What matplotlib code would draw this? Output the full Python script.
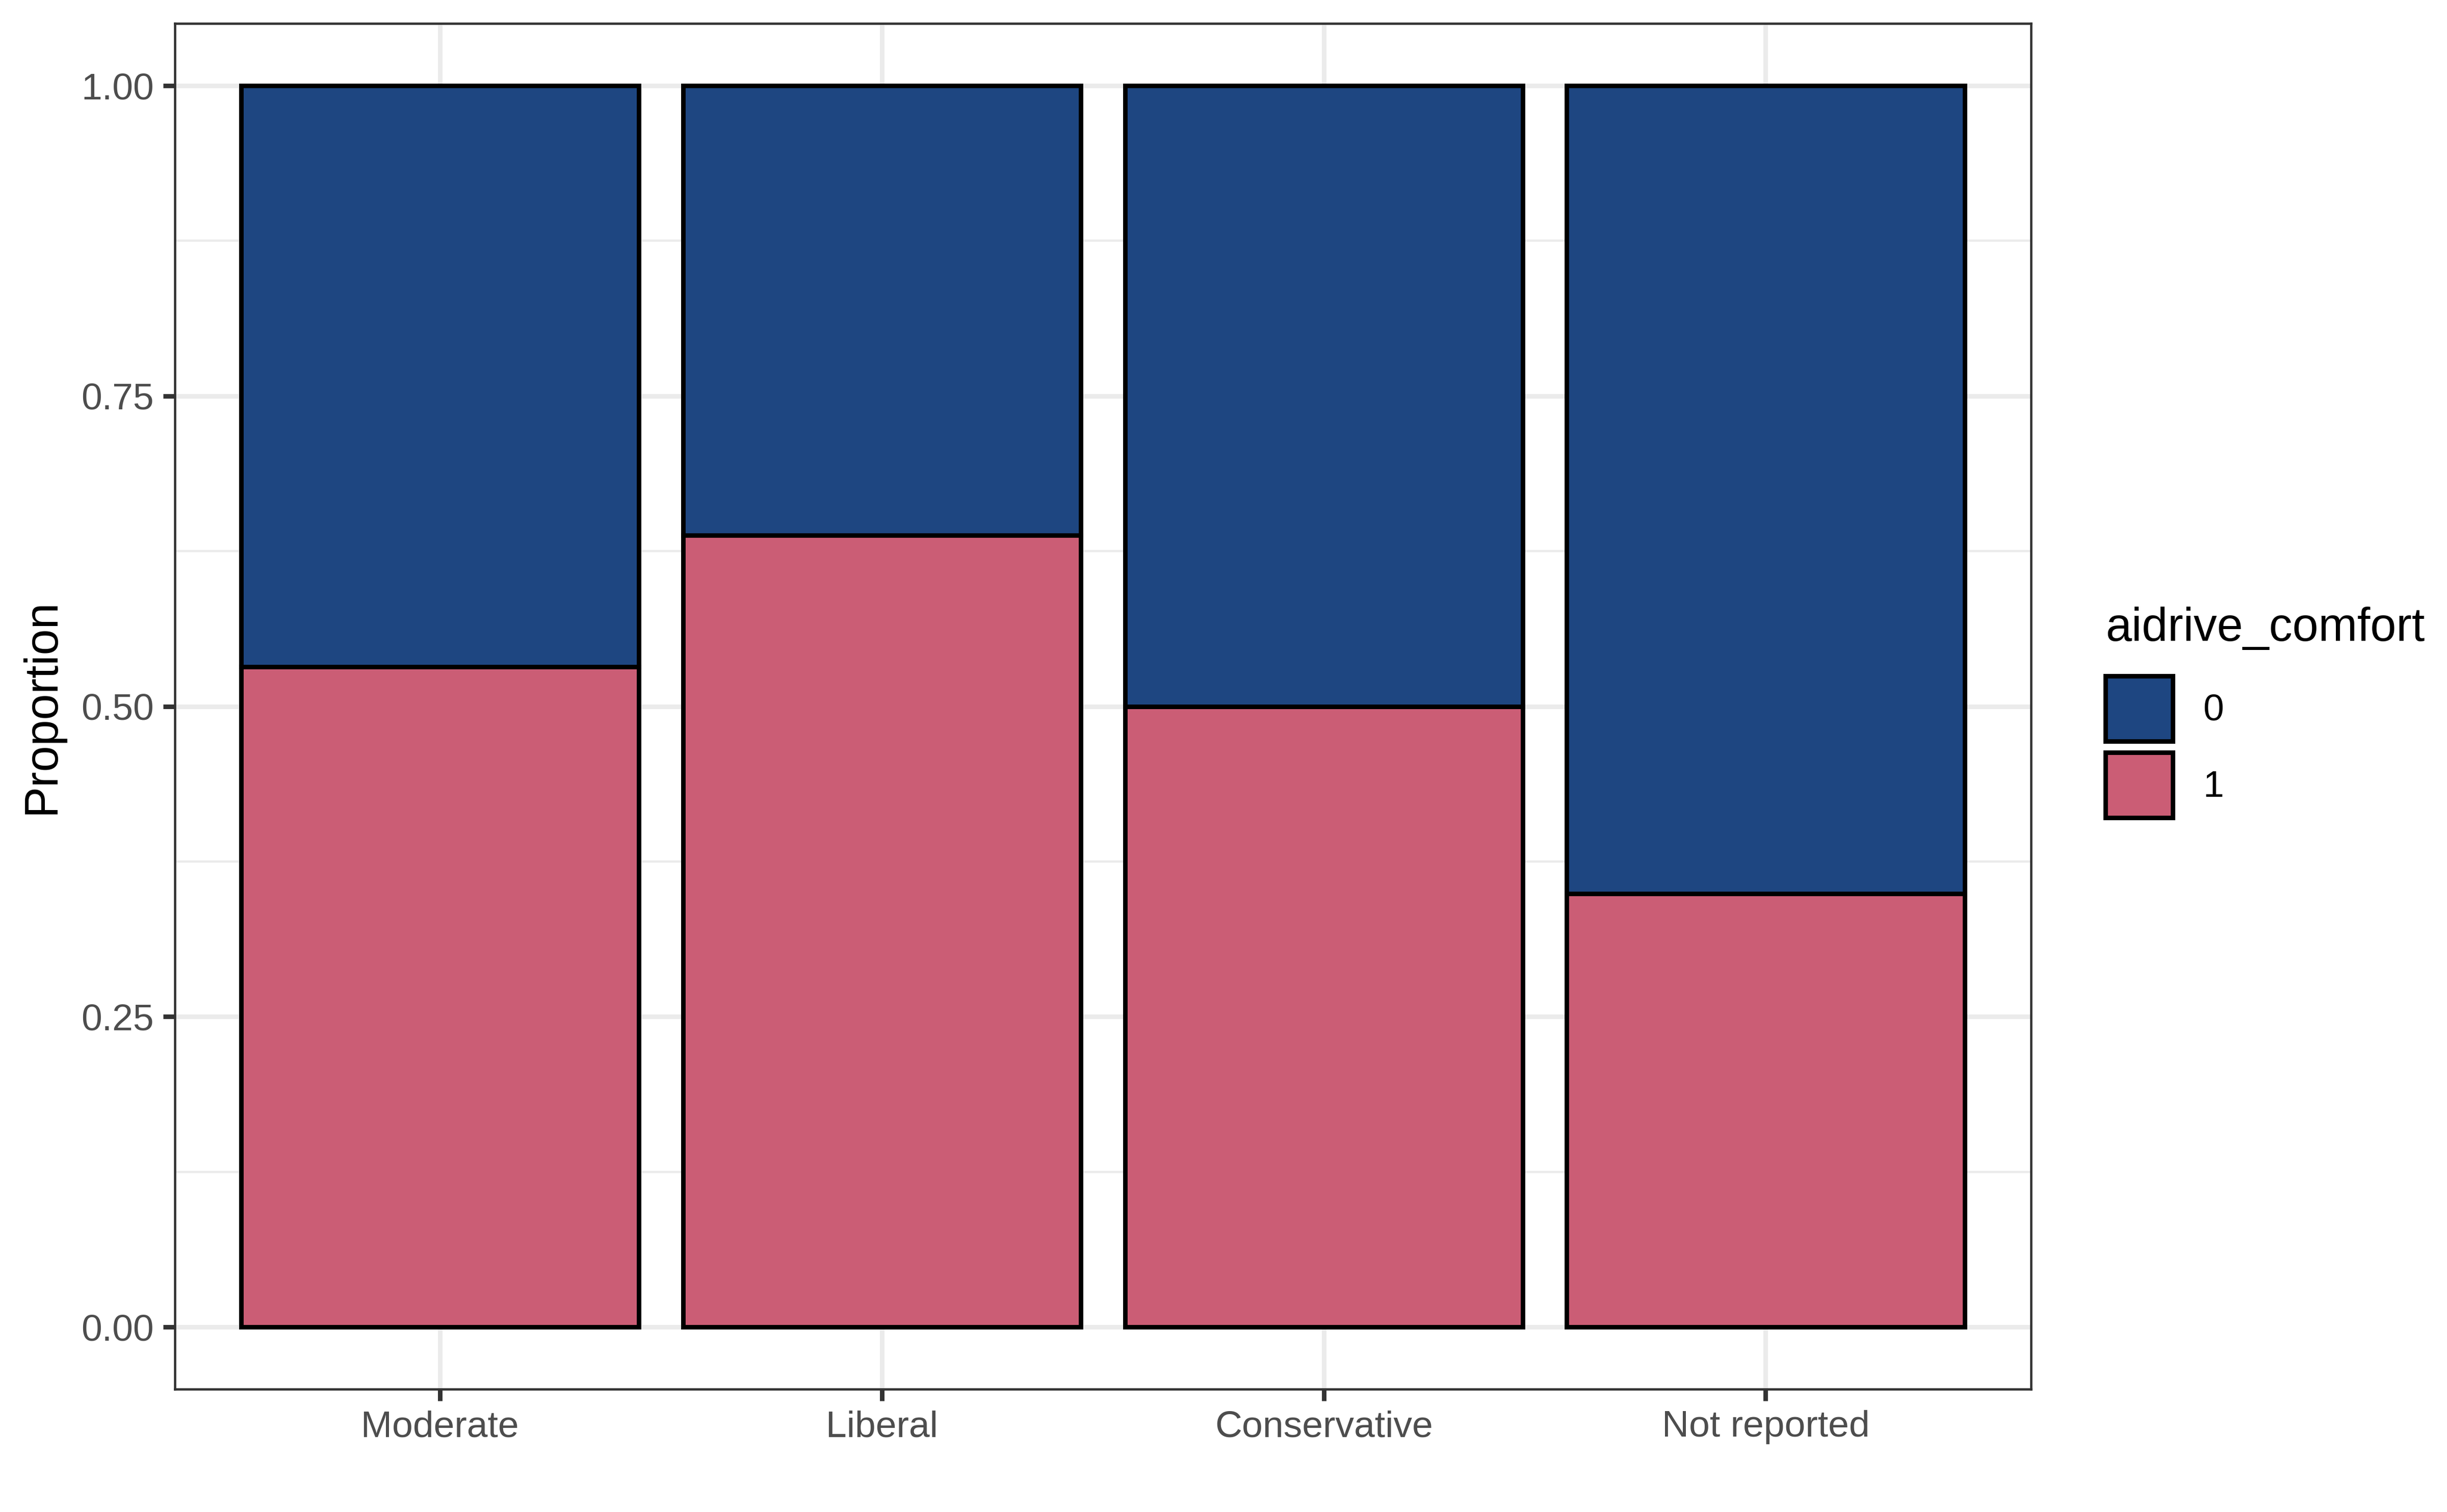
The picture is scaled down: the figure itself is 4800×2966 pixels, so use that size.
import matplotlib
matplotlib.use("Agg")
import matplotlib.pyplot as plt
from matplotlib.patches import Patch
import numpy as np

# proportions
categories = ["Moderate", "Liberal", "Conservative", "Not reported"]
prop_1 = [0.532, 0.638, 0.500, 0.349]
prop_0 = [1 - p for p in prop_1]
levels = ["0", "1"]
fill = {"0": "#1E4681", "1": "#CB5D75"}

plt.rcParams['font.family'] = ['Liberation Sans', 'DejaVu Sans']

fig = plt.figure(figsize=(8, 2966 / 600))
ax = fig.add_axes([0.0715, 0.0813, 0.8299 - 0.0715, 0.9844 - 0.0813])

x = np.arange(1, len(categories) + 1)
lw = 1.07
ax.bar(x, prop_1, width=0.9, color=fill["1"], edgecolor="black", linewidth=lw, zorder=3)
ax.bar(x, prop_0, width=0.9, bottom=prop_1, color=fill["0"], edgecolor="black", linewidth=lw, zorder=3)

ax.set_xlim(0.4, 4.6)
ax.set_ylim(-0.05, 1.05)
ax.set_xticks(x)
ax.set_xticklabels(categories)
yt = [0, 0.25, 0.5, 0.75, 1.0]
ax.set_yticks(yt)
ax.set_yticklabels([f"{v:.2f}" for v in yt])
ax.set_yticks([0.125, 0.375, 0.625, 0.875], minor=True)

ax.set_axisbelow(True)
ax.grid(which="major", color="#EBEBEB", linewidth=lw)
ax.grid(which="minor", axis="y", color="#EBEBEB", linewidth=lw / 2)

for s in ax.spines.values():
    s.set_color("#333333")
    s.set_linewidth(0.55)
    s.set_zorder(4)

ax.tick_params(which="major", length=2.75, width=lw, color="#333333",
               labelcolor="#4D4D4D", labelsize=8.8, pad=2.2)
ax.tick_params(which="minor", length=0)

ax.set_ylabel("Proportion", fontsize=11, color="black", labelpad=4)

handles = [Patch(facecolor=fill[l], edgecolor="black", linewidth=lw) for l in levels]
leg = fig.legend(handles, levels, title="aidrive_comfort", loc="center left",
                 bbox_to_anchor=(0.8605, 0.529), frameon=False, fontsize=8.8,
                 title_fontsize=11, alignment="left", handlelength=1.8, handleheight=2.3,
                 labelspacing=0.3, handletextpad=0.8, borderpad=0, borderaxespad=0)
leg._legend_box.sep = 6

fig.savefig("out.png", dpi=600, facecolor="white")
